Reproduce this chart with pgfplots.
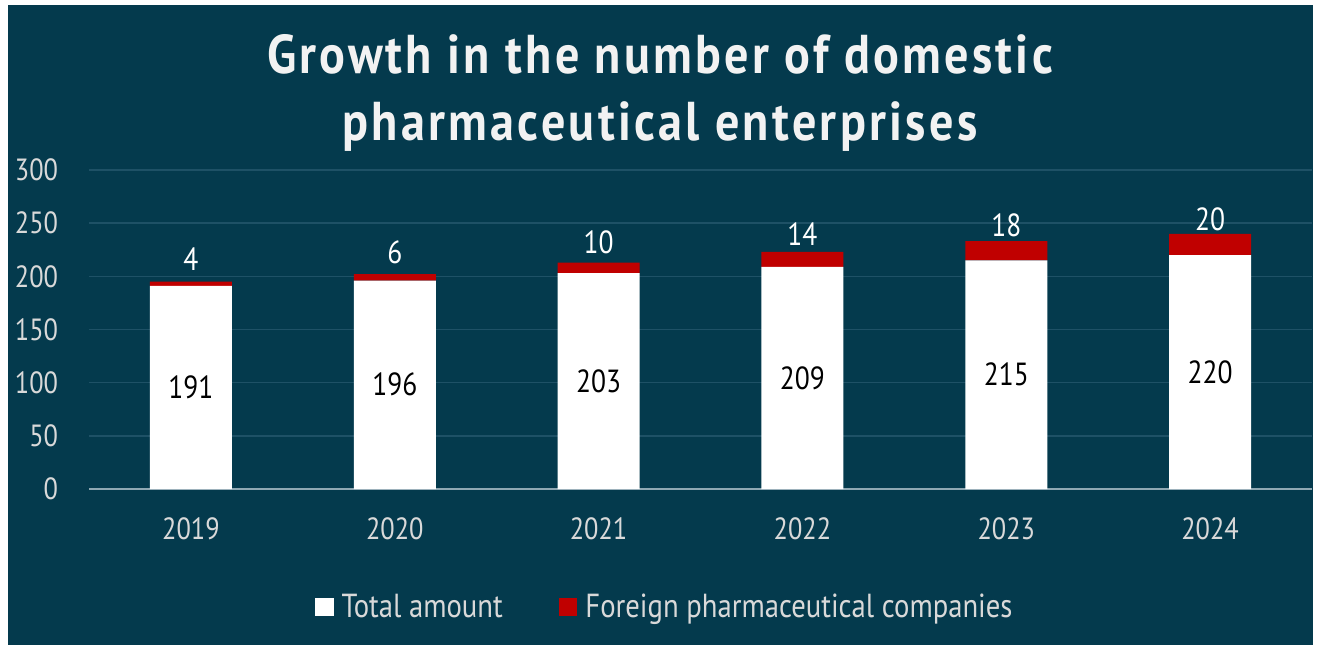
\documentclass[border=0pt]{standalone}
\usepackage{pgfplots}
\pgfplotsset{compat=1.18}
\usepackage{pgfplotstable}
\usepackage{fontspec}
\setmainfont[FakeStretch=0.86]{PT Sans}
\newfontfamily\titlefont[FakeStretch=0.88,LetterSpace=6]{PT Sans}
\definecolor{bgc}{HTML}{043A4D}
\definecolor{gridc}{HTML}{1E5166}
\definecolor{axc}{HTML}{8FA8B3}
\definecolor{txt}{HTML}{D9D9D9}
\definecolor{redc}{HTML}{C00000}
\pgfplotstableread{
x total foreign
0 191 4
1 196 6
2 203 10
3 209 14
4 215 18
5 220 20
}\data
\pgfplotsset{common/.style={
  at={(66.75pt,120.75pt)}, anchor=south west,
  scale only axis, width=917.25pt, height=239.25pt,
  ymin=0, ymax=300, xmin=-0.5, xmax=5.5,
  /pgf/number format/assume math mode=true}}
\begin{document}
\begin{tikzpicture}
\fill[white] (0,0) rectangle (989.25pt,487.5pt);
\fill[bgc] (6pt,3.75pt) rectangle (984.75pt,483.75pt);
\node[align=center, text=white!95!black, font=\titlefont\bfseries\fontsize{41}{50.25}\selectfont] at (495pt,417.5pt) {Growth in the number of domestic\\pharmaceutical enterprises};
\begin{axis}[common,
  ybar stacked, bar width=61.5pt,
  xtick={0,...,5}, xticklabels={2019,2020,2021,2022,2023,2024},
  ytick={0,50,...,300},
  ymajorgrids, grid style={draw=gridc, line width=1.1pt},
  axis x line*=bottom, axis y line*=left,
  y axis line style={draw=none},
  x axis line style={draw=axc, line width=1.4pt, -},
  major tick length=0pt, tick style={draw=none},
  ticklabel style={text=txt, font=\fontsize{23}{26}\selectfont},
  yticklabel style={anchor=east, inner sep=0pt, xshift=-23pt},
  xticklabel style={anchor=north, inner sep=0pt, yshift=-21pt},
  legend style={at={(0.471,-0.37)}, anchor=center, draw=none, fill=none,
    text=txt, font=\fontsize{25}{28}\selectfont, legend columns=2,
    /tikz/every even column/.append style={column sep=40pt}},
  legend image code/.code={\fill[#1] (0pt,-7pt) rectangle (14pt,7pt);},
]
\addplot[fill=white, draw=none]
  table[x=x, y=total] {\data};
\addlegendentry{\hspace{4pt}Total amount}
\addplot[fill=redc, draw=none,
  nodes near coords, point meta=explicit,
  every node near coord/.style={anchor=south, text=white, inner sep=0pt,
    font=\fontsize{24}{28}\selectfont, yshift=10pt}]
  table[x=x, y=foreign, meta=foreign] {\data};
\addlegendentry{\hspace{4pt}Foreign pharmaceutical companies}
\end{axis}
\begin{axis}[common, hide axis]
\addplot[draw=none, mark=none,
  nodes near coords, point meta=explicit,
  every node near coord/.style={anchor=center, text=black, inner sep=0pt,
    font=\fontsize{24}{28}\selectfont}]
  table[x=x, y expr=\thisrow{total}/2, meta=total] {\data};
\end{axis}
\end{tikzpicture}
\end{document}
